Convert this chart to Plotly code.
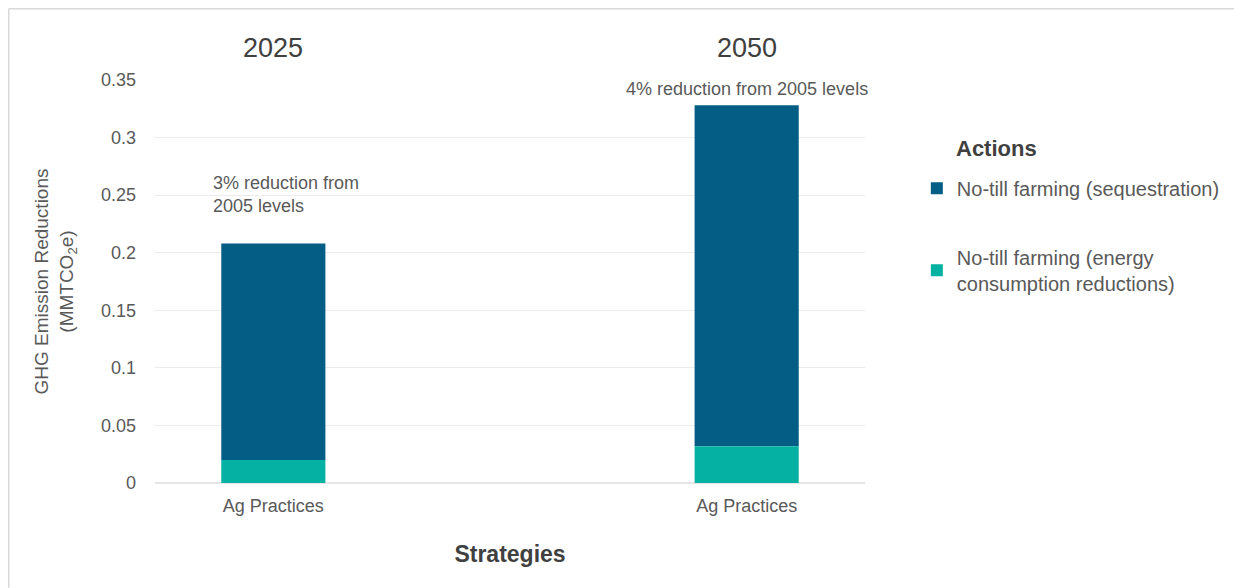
import plotly.graph_objects as go

# Datos
anios = ["2025", "2050"]
estrategias = ["Ag Practices", "Ag Practices"]
energia = [0.020, 0.032]        # No-till farming (energy consumption reductions)
secuestro = [0.188, 0.296]      # No-till farming (sequestration)
notas = ["3% reduction from<br>2005 levels", "4% reduction from 2005 levels"]

pos = [0, 1]
gris = "#595959"
oscuro = "#404040"
fuente = "Liberation Sans, Arial, sans-serif"

fig = go.Figure()
# secuestro apilado sobre energia (base), primero para que encabece la leyenda
fig.add_trace(go.Bar(x=pos, y=secuestro, base=energia, name="No-till farming (sequestration)",
                     marker=dict(color="#035D85", line=dict(width=0)), width=0.22,
                     legendgroup="secuestro"))
fig.add_trace(go.Bar(x=pos, y=energia, name="No-till farming (energy<br>consumption reductions)",
                     marker=dict(color="#05B1A2", line=dict(width=0)), width=0.22,
                     legendgroup="energia"))

# Titulos de los años
for p, a in zip(pos, anios):
    fig.add_annotation(x=p, y=1, yref="paper", yanchor="middle", yshift=32, text=a,
                       showarrow=False, font=dict(size=27, color=oscuro))

# Notas de reduccion
totales = [e + s for e, s in zip(energia, secuestro)]
fig.add_annotation(x=pos[0] - 0.131, y=totales[0], text=notas[0], showarrow=False,
                   xanchor="left", yanchor="bottom", align="left", yshift=26,
                   font=dict(size=18, color=gris))
fig.add_annotation(x=pos[1], y=totales[1], text=notas[1], showarrow=False,
                   yanchor="bottom", yshift=4, font=dict(size=18, color=gris))

# Titulo de la leyenda
fig.add_annotation(x=1.125, y=0.83, xref="paper", yref="paper", xanchor="left", yanchor="middle",
                   text="<b>Actions</b>", showarrow=False, font=dict(size=22, color=oscuro))

# Borde exterior tenue
fig.add_shape(type="line", xref="paper", yref="paper", x0=-0.206, x1=1.52, y0=1.177, y1=1.177,
              line=dict(color="#d9d9d9", width=1.5))
fig.add_shape(type="line", xref="paper", yref="paper", x0=-0.206, x1=-0.206, y0=1.177, y1=-0.26,
              line=dict(color="#d9d9d9", width=1.5))

fig.update_layout(
    barmode="overlay",
    width=1237, height=580,
    margin=dict(l=147, r=380, t=72, b=105),
    plot_bgcolor="white", paper_bgcolor="white",
    font=dict(family=fuente, color=gris, size=15),
    showlegend=True,
    legend=dict(
        x=1.073, y=0.78, xanchor="left", yanchor="top",
        traceorder="grouped", tracegroupgap=40, itemwidth=30,
        font=dict(size=20, color=gris),
    ),
    xaxis=dict(
        range=[-0.25, 1.25], tickvals=pos, ticktext=estrategias,
        showgrid=False, zeroline=False, showline=False, ticks="",
        tickfont=dict(size=18, color=gris), ticklabelstandoff=10,
        title=dict(text="<b>Strategies</b>", font=dict(size=23, color=oscuro), standoff=30),
    ),
    yaxis=dict(
        range=[0, 0.35], dtick=0.05, tickformat="~g",
        showgrid=True, gridcolor="#ececec", gridwidth=1,
        zeroline=True, zerolinecolor="#e6e6e6", showline=False,
        tickfont=dict(size=18, color=gris), ticks="", ticklabelstandoff=18,
        title=dict(text="GHG Emission Reductions<br>(MMTCO<sub>2</sub>e)",
                   font=dict(size=19, color=gris), standoff=22),
    ),
)

fig.write_html("out.html")
